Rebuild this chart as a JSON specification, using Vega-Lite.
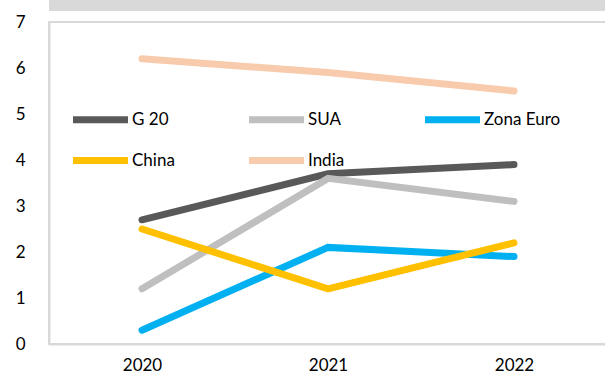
{
  "$schema": "https://vega.github.io/schema/vega-lite/v6.json",
  "width": 558,
  "height": 322,
  "autosize": "none",
  "padding": {"left": 49, "top": 22, "right": 0, "bottom": 32},
  "background": "white",
  "config": {
    "font": "Lato",
    "view": {"stroke": "#d9d9d9", "strokeWidth": 2},
    "axis": {"labelFont": "Lato", "labelFontSize": 17, "labelColor": "#000000", "domainColor": "#d9d9d9", "domainWidth": 2, "ticks": false, "grid": false, "title": null}
  },
  "data": {
    "values": [
      {"year": "2020", "series": "G 20", "value": 2.7},
      {"year": "2021", "series": "G 20", "value": 3.7},
      {"year": "2022", "series": "G 20", "value": 3.9},
      {"year": "2020", "series": "SUA", "value": 1.2},
      {"year": "2021", "series": "SUA", "value": 3.6},
      {"year": "2022", "series": "SUA", "value": 3.1},
      {"year": "2020", "series": "Zona Euro", "value": 0.3},
      {"year": "2021", "series": "Zona Euro", "value": 2.1},
      {"year": "2022", "series": "Zona Euro", "value": 1.9},
      {"year": "2020", "series": "China", "value": 2.5},
      {"year": "2021", "series": "China", "value": 1.2},
      {"year": "2022", "series": "China", "value": 2.2},
      {"year": "2020", "series": "India", "value": 6.2},
      {"year": "2021", "series": "India", "value": 5.9},
      {"year": "2022", "series": "India", "value": 5.5}
    ]
  },
  "layer": [
    {
      "mark": {"type": "rect", "color": "#d9d9d9", "clip": false},
      "encoding": {
        "y": {"datum": 7.24, "type": "quantitative"},
        "y2": {"datum": 7.5}
      }
    },
    {
      "mark": {"type": "line", "strokeWidth": 7, "strokeCap": "round", "strokeJoin": "miter"},
      "encoding": {
        "x": {
          "field": "year", "type": "ordinal",
          "scale": {"type": "point", "padding": 0.5},
          "axis": {"labelAngle": 0, "labelPadding": 13, "domain": true}
        },
        "y": {
          "field": "value", "type": "quantitative",
          "scale": {"domain": [0, 7], "nice": false},
          "axis": {"values": [0, 1, 2, 3, 4, 5, 6, 7], "labelPadding": 24, "domain": true}
        },
        "color": {
          "field": "series", "type": "nominal",
          "scale": {
            "domain": ["G 20", "SUA", "Zona Euro", "China", "India"],
            "range": ["#595959", "#bfbfbf", "#00b0f0", "#ffc000", "#f8cbad"]
          },
          "legend": {
            "title": null,
            "orient": "none",
            "legendX": 34,
            "legendY": 80,
            "direction": "horizontal",
            "columns": 3,
            "gridAlign": "all",
            "columnPadding": 26,
            "rowPadding": 9,
            "symbolType": "M-2,0H2",
            "symbolSize": 756,
            "symbolStrokeWidth": 7,
            "labelFont": "Lato",
            "labelFontSize": 17,
            "labelColor": "#000000",
            "labelOffset": 14
          }
        },
        "detail": {"field": "series"}
      }
    }
  ]
}
